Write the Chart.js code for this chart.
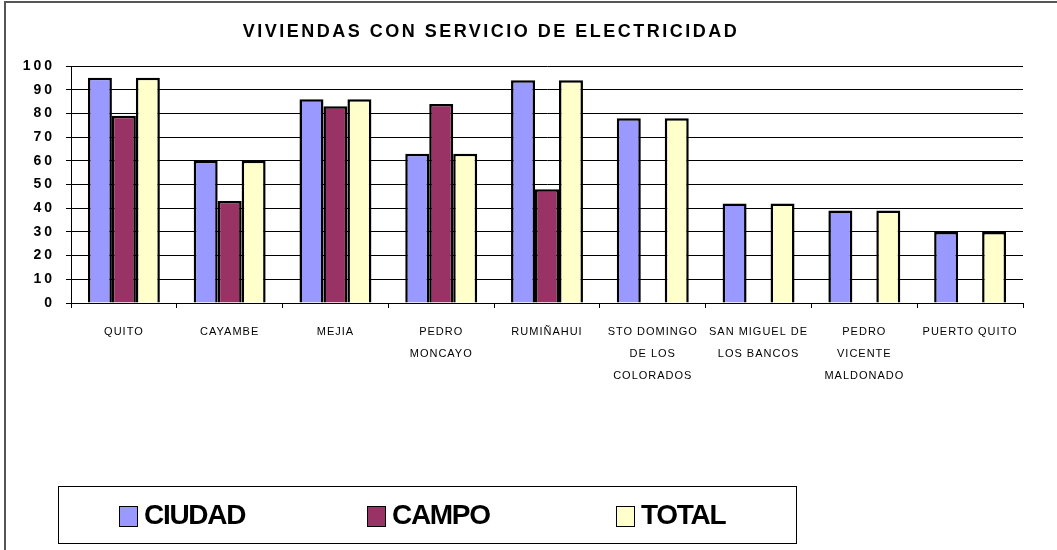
<!DOCTYPE html>
<html>
<head>
<meta charset="utf-8">
<script src="https://cdn.jsdelivr.net/npm/chart.js@4"></script>
<style>
  html, body { margin: 0; padding: 0; background: #fff; }
  #wrap { position: relative; width: 1057px; height: 550px; overflow: hidden;
    font-family: "Liberation Sans", Arial, sans-serif; }
  #frame { position: absolute; left: 4px; top: 1px; right: 0; bottom: 0;
    border-top: 2px solid #555; border-left: 2px solid #555; }
  #title { position: absolute; left: 0; width: 982px; top: 21px; text-align: center;
    font-weight: bold; font-size: 18px; letter-spacing: 2.5px; color: #000; }
  #legend { position: absolute; left: 58px; top: 486px; width: 739px; height: 58px;
    box-sizing: border-box; border: 1px solid #000; }
  .item { position: absolute; top: 0; height: 56px; display: flex; align-items: center; }
  .sw { width: 17px; height: 19px; border: 1.5px solid #000; margin-right: 6px; margin-top: 2px; }
  .lbl { font-weight: bold; font-size: 28px; letter-spacing: -1.3px; color: #000; }
  canvas { position: absolute; left: 0; top: 0; }
</style>
</head>
<body>
<div id="wrap">
  <div id="frame"></div>
  <canvas id="chart" width="1057" height="550"></canvas>
  <div id="title">VIVIENDAS CON SERVICIO DE ELECTRICIDAD</div>
  <div id="legend"></div>
</div>
<script>
// categorias (cantones)
const cantones = [
  'QUITO', 'CAYAMBE', 'MEJIA', ['PEDRO', 'MONCAYO'], 'RUMIÑAHUI',
  ['STO DOMINGO', 'DE LOS', 'COLORADOS'], ['SAN MIGUEL DE', 'LOS BANCOS'],
  ['PEDRO', 'VICENTE', 'MALDONADO'], 'PUERTO QUITO'
];
const ciudad = [95, 60, 86, 63, 94, 78, 42, 39, 30];
const campo = [79, 43, 83, 84, 48, null, null, null, null];
const total = [95, 60, 86, 63, 94, 78, 42, 39, 30];
const yTicks = [0, 10, 20, 30, 40, 50, 60, 70, 80, 90, 100];

const seriesNames = ['CIUDAD', 'CAMPO', 'TOTAL'];
const seriesColors = ['#9999FF', '#993366', '#FFFFCC'];

const LETTER_SPACING = { x: '1px', y: '3px' };

// Chart.js no soporta letterSpacing, se envuelve drawLabels de cada eje
const spacingPlugin = {
  id: 'spacing',
  afterLayout(chart) {
    ['x', 'y'].forEach(id => {
      const s = chart.scales[id];
      if (!s || s._spaced) return;
      const orig = s.drawLabels;
      s.drawLabels = function(area) {
        const ctx = this.ctx;
        ctx.save();
        ctx.letterSpacing = LETTER_SPACING[id];
        orig.call(this, area);
        ctx.restore();
      };
      s._spaced = true;
    });
  }
};

const datasets = [ciudad, campo, total].map((data, i) => ({
  label: seriesNames[i],
  data: data,
  backgroundColor: seriesColors[i],
  borderColor: '#000',
  borderWidth: 2.5,
  borderSkipped: 'bottom',
  categoryPercentage: 0.68,
  barPercentage: 1
}));

const FONT = '"Liberation Sans", Arial, sans-serif';

new Chart(document.getElementById('chart').getContext('2d'), {
  type: 'bar',
  data: { labels: cantones, datasets: datasets },
  options: {
    responsive: false,
    animation: false,
    layout: { padding: { left: 0, top: 66, right: 34, bottom: 157 } },
    plugins: {
      legend: { display: false },
      title: { display: false },
      tooltip: { enabled: false }
    },
    scales: {
      x: {
        afterFit: s => { s.height = 90; },
        grid: { drawOnChartArea: false, drawTicks: true, tickLength: 5, color: '#000', lineWidth: 1 },
        border: { color: '#000', width: 1 },
        ticks: {
          color: '#000', maxRotation: 0, autoSkip: false, padding: 13,
          font: { family: FONT, size: 11, lineHeight: 2 }
        }
      },
      y: {
        min: 0, max: 100,
        afterFit: s => { s.width = 71; },
        afterBuildTicks: s => { s.ticks = yTicks.map(v => ({ value: v })); },
        grid: { color: '#000', lineWidth: 1, tickLength: 5 },
        border: { color: '#000', width: 1 },
        ticks: {
          color: '#000', padding: 11,
          font: { family: FONT, size: 14, weight: 'bold' }
        }
      }
    }
  },
  plugins: [spacingPlugin]
});

// leyenda en HTML con su recuadro
const legendPos = [60, 308, 557];
const legend = document.getElementById('legend');
seriesNames.forEach((name, i) => {
  const item = document.createElement('div');
  item.className = 'item';
  item.style.left = legendPos[i] + 'px';
  item.innerHTML = '<div class="sw" style="background:' + seriesColors[i] + '"></div>' +
    '<span class="lbl">' + name + '</span>';
  legend.appendChild(item);
});
</script>
</body>
</html>
